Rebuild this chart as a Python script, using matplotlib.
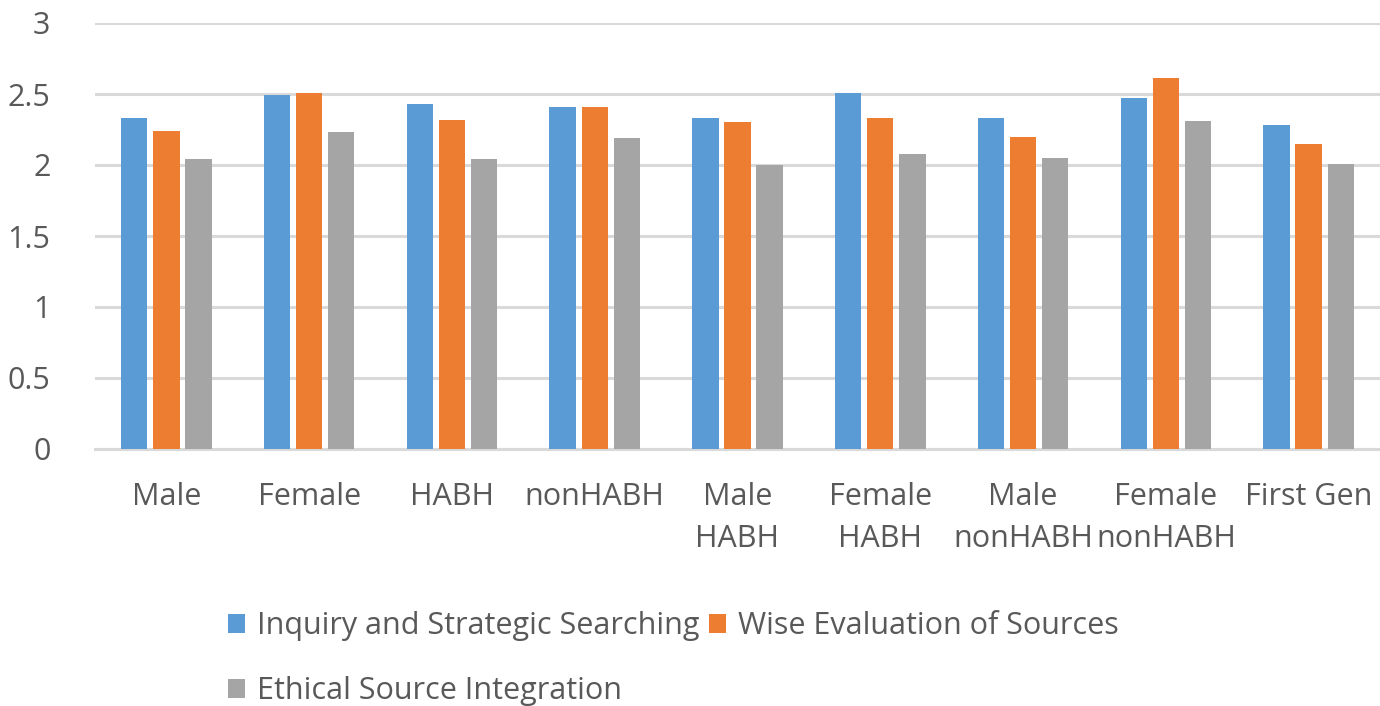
import matplotlib.pyplot as plt
import numpy as np

categories = ["Male", "Female", "HABH", "nonHABH", "Male\nHABH", "Female\nHABH",
              "Male\nnonHABH", "Female\nnonHABH", "First Gen"]
series_names = ["Inquiry and Strategic Searching", "Wise Evaluation of Sources",
                "Ethical Source Integration"]
inquiry = [2.33, 2.49, 2.43, 2.41, 2.33, 2.51, 2.33, 2.47, 2.28]
evaluation = [2.24, 2.51, 2.32, 2.41, 2.30, 2.33, 2.20, 2.61, 2.15]
integration = [2.04, 2.23, 2.04, 2.19, 2.00, 2.08, 2.05, 2.31, 2.01]
colors = ["#5b9bd5", "#ed7d31", "#a5a5a5"]

plt.rcParams["font.family"] = ["Open Sans", "DejaVu Sans"]
text_color = "#595959"
fs = 22

fig = plt.figure(figsize=(13.8, 7.06), dpi=100)
ax = fig.add_axes([95 / 1380, 1 - 449 / 706, 1285 / 1380, 426 / 706])

x = np.arange(len(categories))
step = 0.225
width = 0.185
bars = []
for i, (vals, name, c) in enumerate(zip([inquiry, evaluation, integration], series_names, colors)):
    b = ax.bar(x + (i - 1) * step, vals, width, color=c, label=name, zorder=3)
    bars.append(b)

ax.set_xlim(-0.5, len(categories) - 0.5)
ax.set_ylim(0, 3)
ax.set_yticks(np.arange(0, 3.01, 0.5))
ax.set_yticklabels(["0", "0.5", "1", "1.5", "2", "2.5", "3"])
ax.set_xticks(x)
ax.set_xticklabels(categories, linespacing=1.5)
ax.yaxis.grid(True, color="#d9d9d9", linewidth=2.2, zorder=0)
ax.tick_params(axis="both", length=0, labelsize=fs, colors=text_color)
ax.tick_params(axis="x", pad=24)
ax.tick_params(axis="y", pad=32)
for s in ["top", "right", "left"]:
    ax.spines[s].set_visible(False)
ax.spines["bottom"].set_color("#d9d9d9")
ax.spines["bottom"].set_linewidth(2.2)

# row-major legend: first two series on the top row, third below
handles = [bars[0], bars[2], bars[1]]
labels = [series_names[0], series_names[2], series_names[1]]
leg = fig.legend(handles, labels, ncol=2, loc="upper left",
                 bbox_to_anchor=(213 / 1380, 1 - 596 / 706), frameon=False,
                 fontsize=fs, handlelength=0.55, handleheight=0.55,
                 handletextpad=0.4, columnspacing=0.3, labelspacing=1.15,
                 borderpad=0, labelcolor=text_color)

fig.savefig("out.png", dpi=100)
